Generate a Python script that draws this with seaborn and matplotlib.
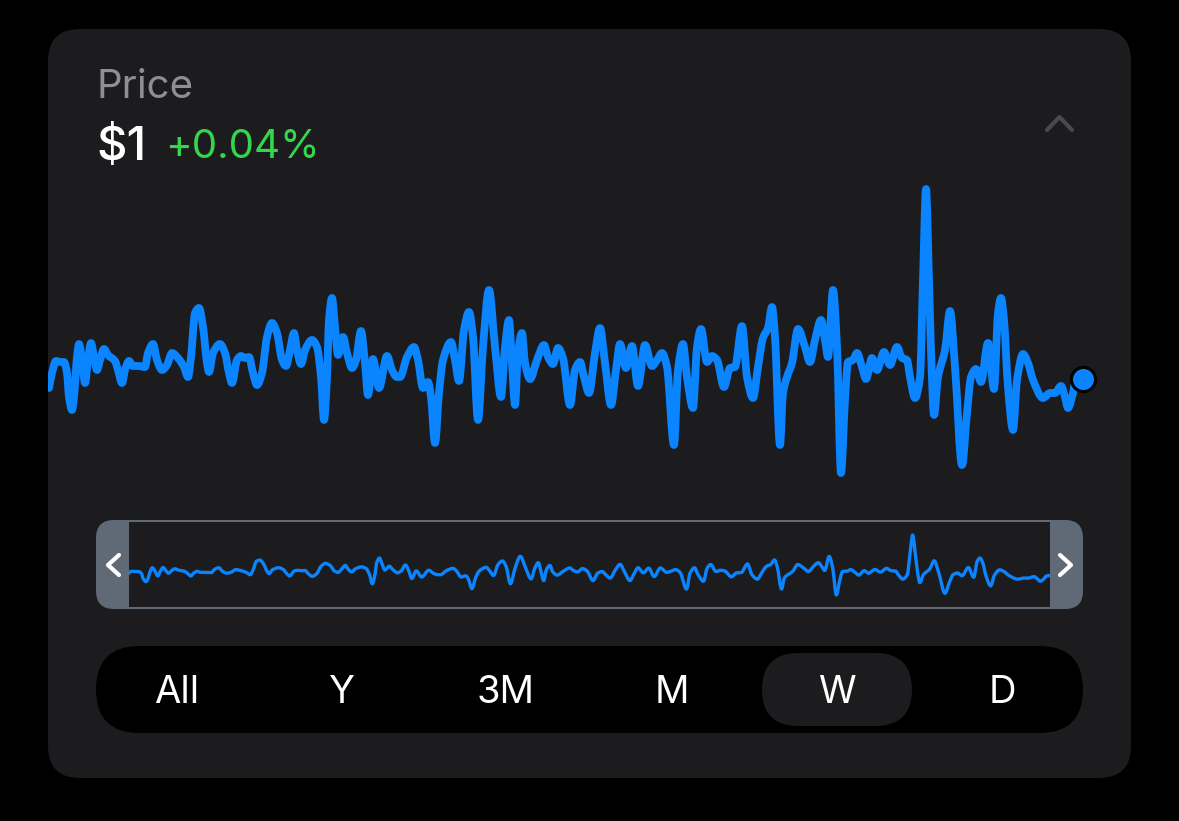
import matplotlib
matplotlib.use("Agg")
import matplotlib.pyplot as plt
import numpy as np
import seaborn as sns
from matplotlib.patches import FancyBboxPatch, Rectangle
from matplotlib.path import Path
from matplotlib.patheffects import AbstractPathEffect
from matplotlib.transforms import IdentityTransform

# Datos
time_idx = [
    1, 4, 8, 13, 16, 19, 21, 24, 26, 29, 31, 34, 37, 40, 43, 46, 49, 52, 56, 60,
    67, 70, 74, 77, 81, 85, 90, 97, 100, 105, 109, 114, 119, 124, 130, 136, 140, 143, 147, 151,
    155, 159, 161, 165, 172, 177, 181, 184, 189, 193, 197, 201, 205, 209, 214, 219, 224, 229, 234, 238,
    242, 246, 249, 253, 257, 264, 269, 273, 276, 279, 281, 284, 287, 290, 295, 299, 304, 308, 313, 317,
    320, 325, 331, 339, 344, 349,
    352, 359, 366, 370, 375, 380, 383, 387, 391, 395, 403, 407, 411, 416, 421, 425, 430, 435, 441, 447,
    453, 457, 461, 464, 467, 470, 474, 477, 482, 489, 496, 500, 505, 510, 515, 522, 527, 532, 536, 541,
    547, 552, 557, 563, 568, 572, 578, 584, 590, 597, 604, 609, 614, 619, 626, 630, 635, 639, 645, 649,
    653, 659, 664, 669, 676, 682, 687, 694, 699,
    705, 710, 715, 720, 724, 727, 732, 735, 739, 744, 750, 757, 762, 767, 773, 777, 780, 785, 789, 793,
    797, 800, 805, 809, 814, 818, 824, 829, 836, 842, 849, 854, 859, 862, 867, 872, 875, 878, 881, 884,
    886, 890, 897, 902, 907, 914, 919, 923, 928, 933, 940, 946, 950, 953, 956, 960, 965, 969, 975, 980,
    985, 995, 1002, 1007, 1013, 1017, 1020, 1025, 1027, 1035,
]
price_move = [
    -8, 7, 19, 18, 18, 7, -17, -30, -17, 23, 36, 20, -3, 20, 37, 23, 10, 20, 31, 25,
    19, 10, -3, 10, 19, 14, 14, 13, 27, 36, 20, 10, 15, 27, 22, 13, 3, 23, 67, 72,
    53, 17, 8, 27, 36, 27, 7, -3, 20, 24, 22, 23, 7, -5, 7, 43, 57, 47, 20, 14,
    30, 47, 30, 16, 30, 40, 33, 3, -40, 3, 60, 82, 53, 25, 43, 27, 12, 20, 49, 17,
    -15, 21, -8, 24, 10, 3,
    3, 23, 33, 20, -8, -2, -17, -63, -13, 20, 38, 20, -1, 50, 68, 43, -40, 33, 90, 33,
    -17, 33, 60, 17, -25, 27, 47, 17, 1, 20, 35, 23, 16, 32, 22, -25, 10, 18, 3, -13,
    27, 52, 17, -25, 10, 36, 12, 34, -6, 35, 14, 20, 27, 13, -65, 10, 36, 3, -28, 33,
    51, 18, 24, 20, -7, 12, 13, 54, 3,
    -18, 13, 42, 52, 73, 43, -65, -13, 3, 17, 51, 33, 18, 40, 60, 40, 23, 90, 33, -93,
    -20, 18, 20, 27, 13, 1, 22, 10, 28, 15, 33, 22, 20, 3, -18, 3, 100, 191, 100, 0,
    -35, 3, 30, 69, 13, -85, -33, 3, 11, -2, 37, -9, 67, 82, 60, -7, -50, 0, 26, 17,
    0, -18, -13, -13, -6, -17, -28, -13, -3, 1,
]
range_labels = ["All", "Y", "3M", "M", "W", "D"]
selected_range = "W"
price_text = "$1"
change_text = "+0.04%"

W, H = 1179, 821
BLUE = "#0a84ff"
CARD = "#1c1c1e"
HANDLE = "#5f6a76"
UI_FONT = ["Inter", "DejaVu Sans"]

sns.set_theme(style="white")
plt.rcParams["font.family"] = UI_FONT

fig = plt.figure(figsize=(W / 100, H / 100), dpi=100, facecolor="black")


class MonotoneCurve(AbstractPathEffect):
    # dibuja la linea como curva monotona (como curveMonotoneX), sin tocar los datos
    def draw_path(self, renderer, gc, tpath, affine, rgbFace=None):
        pts = affine.transform(tpath.vertices)
        x, y = pts[:, 0], pts[:, 1]
        h = np.diff(x)
        s = np.diff(y) / h
        m = np.zeros_like(y)
        same = s[:-1] * s[1:] > 0
        m[1:-1][same] = 2 * s[:-1][same] * s[1:][same] / (s[:-1][same] + s[1:][same])
        m[0], m[-1] = s[0], s[-1]
        verts = [pts[0]]
        codes = [Path.MOVETO]
        for i in range(len(h)):
            verts += [(x[i] + h[i] / 3, y[i] + m[i] * h[i] / 3),
                      (x[i + 1] - h[i] / 3, y[i + 1] - m[i + 1] * h[i] / 3),
                      pts[i + 1]]
            codes += [Path.CURVE4] * 3
        renderer.draw_path(gc, Path(verts, codes), IdentityTransform(), None)


def px_axes(x0, y0, x1, y1, zorder):
    # ejes colocados con coordenadas en pixeles de la imagen
    ax = fig.add_axes([x0 / W, 1 - y1 / H, (x1 - x0) / W, (y1 - y0) / H], zorder=zorder)
    ax.patch.set_alpha(0)
    ax.set_axis_off()
    return ax


def round_box(ax, x0, y0, x1, y1, radius, color, zorder=1):
    ax.add_patch(FancyBboxPatch(
        (x0 + radius, y0 + radius), x1 - x0 - 2 * radius, y1 - y0 - 2 * radius,
        boxstyle=f"round,pad={radius},rounding_size={radius}",
        fc=color, ec="none", zorder=zorder,
    ))


# Fondo y controles
ui = px_axes(0, 0, W, H, 0)
ui.set_xlim(0, W)
ui.set_ylim(H, 0)

round_box(ui, 48, 29, 1131, 778, 32, CARD)

ui.text(96, 84, "Price", color="#8e8e93", fontsize=29, va="center_baseline", ha="left")
ui.text(96, 143, price_text, color="white", fontsize=34, va="center_baseline", ha="left", fontweight="medium")
ui.text(165, 144, change_text, color="#32d74b", fontsize=29, va="center_baseline", ha="left")

ui.plot([1047, 1059.5, 1072], [130, 117, 130], color="#4a4a4d", lw=3, solid_capstyle="round", solid_joinstyle="round")

# Selector de rango del mini grafico
round_box(ui, 96, 520, 1083, 609, 18, HANDLE)
ui.add_patch(Rectangle((129, 522), 921, 85, fc=CARD, ec="none", zorder=2))
ui.plot([119, 108, 119], [555, 565, 575], color="white", lw=3, zorder=3, solid_capstyle="round", solid_joinstyle="round")
ui.plot([1060, 1071, 1060], [555, 565, 575], color="white", lw=3, zorder=3, solid_capstyle="round", solid_joinstyle="round")

# Botones de periodo
round_box(ui, 96, 646, 1083, 733, 43.5, "black")
centers = [177, 342, 506, 672, 837, 1002]
for label, cx in zip(range_labels, centers):
    if label == selected_range:
        round_box(ui, cx - 75, 653, cx + 75, 726, 36.5, CARD, zorder=2)
    ui.text(cx, 689, label, color="white", fontsize=27.5, ha="center", va="center_baseline", zorder=3)

# Grafico principal
main = px_axes(48, 180, 1083, 480, 2)
sns.lineplot(x=time_idx, y=price_move, ax=main, color=BLUE, lw=5.6, sort=False, estimator=None,
             errorbar=None, solid_capstyle="round", solid_joinstyle="round")
main.lines[0].set_path_effects([MonotoneCurve()])
main.scatter(time_idx[-1:], price_move[-1:], s=300, color=BLUE, edgecolor="black", linewidth=2.2,
             zorder=5, clip_on=False)
main.set_xlim(0, 1035)
main.set_ylim(-100, 200)
main.set_axis_off()

# Mini grafico con la misma serie
mini = px_axes(129, 522, 1050, 607, 3)
sns.lineplot(x=time_idx, y=price_move, ax=mini, color=BLUE, lw=2.4, sort=False, estimator=None,
             errorbar=None, solid_joinstyle="round")
mini.lines[0].set_path_effects([MonotoneCurve()])
mini.set_xlim(5, 1031)
mini.set_ylim(-150, 252.6)
mini.set_axis_off()

fig.savefig("out.png", dpi=100, facecolor=fig.get_facecolor())
